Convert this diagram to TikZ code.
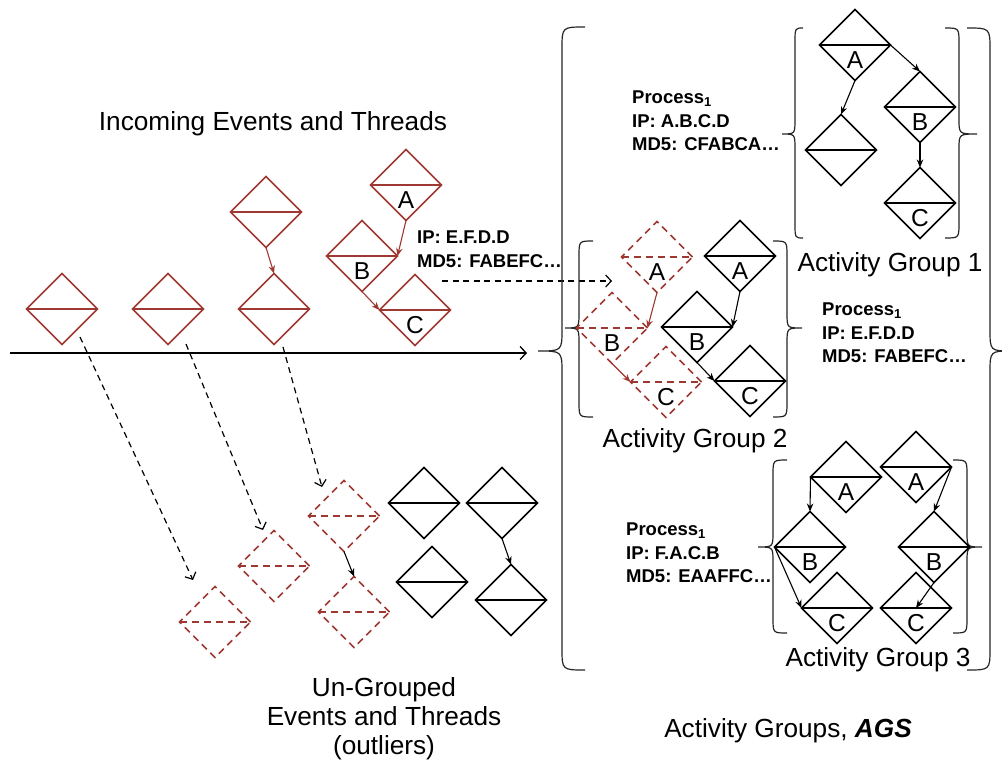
\documentclass[tikz,border=0pt]{standalone}
\usepackage{fontspec}
\setmainfont{Liberation Sans}
\usetikzlibrary{arrows.meta,shapes.geometric}
\definecolor{myred}{RGB}{158,56,50}
\tikzset{
  dia/.style={shape=diamond, minimum width=71pt, minimum height=71pt, inner sep=0pt, outer sep=0pt, line width=1.7pt},
  rsolid/.style={draw=myred},
  rdash/.style={draw=myred, dash pattern=on 7pt off 5pt},
  bsolid/.style={draw=black},
  lab/.style={font=\fontsize{24.5}{28}\selectfont, inner sep=0pt},
  big/.style={font=\fontsize{26.2}{29}\selectfont, inner sep=0pt},
  info/.style={font=\bfseries\fontsize{18.5}{23.5}\selectfont, align=left, anchor=north west, inner sep=0pt},
  flow/.style={-{Stealth[length=8pt,width=6.5pt]}, line width=1.1pt},
  dflow/.style={-{Straight Barb[length=5.5pt,width=12pt]}, line width=1.2pt, dash pattern=on 6pt off 4.5pt},
  tline/.style={-{Straight Barb[length=6pt,width=13pt]}, line width=1.3pt},
  bracepath/.style={line width=1.2pt, black!85},
}
% diamond with a horizontal middle line
\newcommand\dm[3]{%
  \node[dia,#1] (#2) at (#3) {};
  \draw[#1, line width=1.7pt] (#2.west) -- (#2.east);}
\newcommand\dml[4]{%
  \dm{#1}{#2}{#3}%
  \node[lab] at ([yshift=-15.5pt]#2.center) {#4};}
% curly brace: xtip, xvert, xend, ytop, ymid, ybot, radius
\newcommand\cbrace[7]{%
  \draw[bracepath] (#3,#4) .. controls (#2,#4) .. (#2,#4+#7) -- (#2,#5-#7)
    .. controls (#2,#5) .. (#1,#5) .. controls (#2,#5) .. (#2,#5+#7)
    -- (#2,#6-#7) .. controls (#2,#6) .. (#3,#6);}
\begin{document}
\begin{tikzpicture}[x=1pt,y=-1pt]
\clip (0,0) rectangle (1002,763);
\fill[white] (0,0) rectangle (1002,763);

% ---------- incoming events ----------
\node[big, anchor=base] (title) at (273,130) {Incoming Events and Threads};
\dm{rsolid}{D1}{62,309}
\dm{rsolid}{D2}{168,309}
\dm{rsolid}{D3}{274,309}
\dm{rsolid}{D4}{266,212}
\dml{rsolid}{IA}{406,185}{A}
\dml{rsolid}{IB}{362,256}{B}
\dml{rsolid}{IC}{415,310}{C}
\draw[flow, myred] (D4.south) -- (D3.north);
\draw[flow, myred] (IA.south) -- (IB.east);
\draw[flow, myred] (IB.south) -- (IC.west);

\node[info] (ipin) at (417,231) {IP: E.F.D.D\\MD5: FABEFC…};

% timeline
\coordinate (t0) at (10,353);
\coordinate (t1) at (527,353);
\draw[tline] (t0) -- (t1);

% ---------- outliers ----------
\dm{rdash}{O1}{215,622}
\dm{rdash}{O2}{274,566}
\dm{rdash}{O3}{344,516}
\dm{rdash}{O4}{354,612}
\draw[flow] (O3.south) -- (O4.north);
\dm{bsolid}{K1}{424,503}
\dm{bsolid}{K2}{502,503}
\dm{bsolid}{K3}{432,582}
\dm{bsolid}{K4}{511,600}
\draw[flow] (K2.south) -- (K4.north);

\coordinate (s1) at (80,337);  \coordinate (e1) at (193,580);
\coordinate (s2) at (186,344); \coordinate (e2) at (263,530);
\coordinate (s3) at (283,347); \coordinate (e3) at (322,487);
\draw[dflow] (s1) -- (e1);
\draw[dflow] (s2) -- (e2);
\draw[dflow] (s3) -- (e3);
\coordinate (s4) at (442,281); \coordinate (e4) at (612,281);
\draw[dflow] (s4) -- (e4);

\node[big, anchor=north, align=center] (ung) at (384,677)
  {Un-Grouped\\Events and Threads\\(outliers)};

% ---------- big brace ----------
\cbrace{538}{562}{585}{27}{351}{670}{22}
\cbrace{1012}{990}{967}{28}{351}{670}{22}
\node[big, anchor=base] (ags) at (788,737) {Activity Groups, \textbf{\textit{AGS}}};

% ---------- activity group 1 ----------
\cbrace{782}{795}{803}{28}{134}{238}{15}
\cbrace{977}{959}{945}{28}{134}{238}{15}
\dml{bsolid}{G1A}{855,45}{A}
\dm{bsolid}{G1E}{841,150}
\dml{bsolid}{G1B}{920,107}{B}
\dml{bsolid}{G1C}{920,203}{C}
\draw[flow] (G1A.south) -- (G1E.north);
\draw[flow] (G1A.east) -- (G1B.north);
\draw[flow] (G1B.south) -- (G1C.north);
\node[info] (p1) at (632,91) {Process\textsubscript{1}\\IP: A.B.C.D\\MD5: CFABCA…};
\node[big, anchor=base] (ag1) at (890,271) {Activity Group 1};

% ---------- activity group 2 ----------
\cbrace{565}{579}{593}{241}{328}{417}{15}
\cbrace{802}{787}{773}{241}{328}{417}{15}
\dml{rdash}{R2A}{657,257}{A}
\dml{rdash}{R2B}{612,328}{B}
\dml{rdash}{R2C}{666,382}{C}
\dml{bsolid}{K2A}{740,256}{A}
\dml{bsolid}{K2B}{697,327}{B}
\dml{bsolid}{K2C}{750,381}{C}
\draw[flow, myred] (R2A.south) -- (R2B.east);
\draw[flow, myred] (R2B.south) -- (R2C.west);
\draw[flow] (K2A.south) -- (K2B.east);
\draw[flow] (K2B.south) -- (K2C.west);
\node[info] (p2) at (822,303) {Process\textsubscript{1}\\IP: E.F.D.D\\MD5: FABEFC…};
\node[big, anchor=base] (ag2) at (695,447) {Activity Group 2};

% ---------- activity group 3 ----------
\cbrace{758}{773}{787}{460}{547}{633}{15}
\cbrace{982}{967}{953}{460}{547}{633}{15}
\dml{bsolid}{G3A1}{846,477}{A}
\dml{bsolid}{G3A2}{916,467}{A}
\dml{bsolid}{G3B1}{810,547}{B}
\dml{bsolid}{G3B2}{934,547}{B}
\dml{bsolid}{G3C1}{837,608}{C}
\dml{bsolid}{G3C2}{916,608}{C}
\draw[flow] (G3A1.west) -- (G3B1.north);
\draw[flow] (G3A2.east) -- (G3B2.north);
\draw[flow] (G3B1.west) -- (G3C1.west);
\draw[flow] (G3B2.south) -- (G3C2.center);
\node[info] (p3) at (626,523) {Process\textsubscript{1}\\IP: F.A.C.B\\MD5: EAAFFC…};
\node[big, anchor=base] (ag3) at (878,666) {Activity Group 3};
\end{tikzpicture}
\end{document}
